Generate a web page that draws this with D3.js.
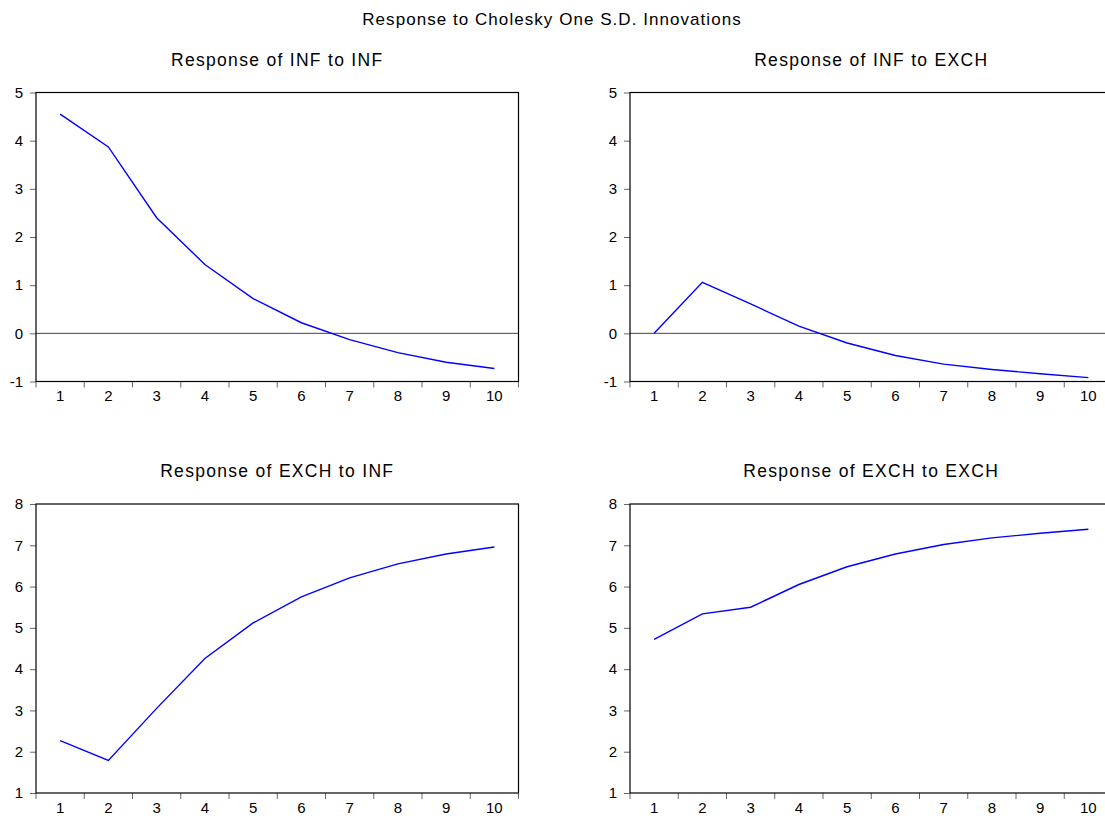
<!DOCTYPE html>
<html>
<head>
<meta charset="utf-8">
<script src="https://cdn.jsdelivr.net/npm/d3@7"></script>
<style>
  body { margin: 0; background: #fff; }
  svg { display: block; font-family: "Liberation Sans", Arial, sans-serif; }
</style>
</head>
<body>
<script>
// impulse response periods
var periods = [1, 2, 3, 4, 5, 6, 7, 8, 9, 10];

// responses
var infToInf   = [4.55, 3.87, 2.40, 1.43, 0.72, 0.22, -0.13, -0.40, -0.60, -0.73];
var infToExch  = [0.00, 1.06, 0.61, 0.15, -0.20, -0.46, -0.64, -0.75, -0.84, -0.92];
var exchToInf  = [2.27, 1.79, 3.05, 4.26, 5.12, 5.75, 6.21, 6.55, 6.79, 6.96];
var exchToExch = [4.72, 5.34, 5.50, 6.05, 6.48, 6.79, 7.02, 7.18, 7.29, 7.39];

var topTicks = [-1, 0, 1, 2, 3, 4, 5];
var bottomTicks = [1, 2, 3, 4, 5, 6, 7, 8];

var mainTitle = "Response to Cholesky One S.D. Innovations";

var panels = [
  {title: "Response of INF to INF",   values: infToInf,   ticks: topTicks,    x0: 36,  y0: 92.5, zero: true},
  {title: "Response of INF to EXCH",  values: infToExch,  ticks: topTicks,    x0: 630, y0: 92.5, zero: true},
  {title: "Response of EXCH to INF",  values: exchToInf,  ticks: bottomTicks, x0: 36,  y0: 504,  zero: false},
  {title: "Response of EXCH to EXCH", values: exchToExch, ticks: bottomTicks, x0: 630, y0: 504,  zero: false}
];

var W = 1105, H = 820;
var pw = 482.5, ph = 289;

var svg = d3.select("body").append("svg")
  .attr("width", W)
  .attr("height", H);

svg.append("rect").attr("width", W).attr("height", H).attr("fill", "#fff");

svg.append("text")
  .attr("x", 552)
  .attr("y", 25)
  .attr("text-anchor", "middle")
  .attr("font-size", 17)
  .attr("letter-spacing", 1.05)
  .text(mainTitle);

panels.forEach(function (p) {
  var x = d3.scaleBand()
    .domain(periods)
    .range([p.x0, p.x0 + pw]);

  var y = d3.scaleLinear()
    .domain(d3.extent(p.ticks))
    .range([p.y0 + ph, p.y0]);

  var g = svg.append("g");

  // panel title
  g.append("text")
    .attr("x", p.x0 + pw / 2)
    .attr("y", p.y0 - 27)
    .attr("text-anchor", "middle")
    .attr("font-size", 17.5)
    .attr("letter-spacing", 1.3)
    .text(p.title);

  // y axis ticks + labels (plain hyphen for negatives)
  var yAxis = d3.axisLeft(y)
    .tickValues(p.ticks)
    .tickFormat(function (d) { return String(d); })
    .tickSize(6)
    .tickPadding(7);
  var ya = g.append("g")
    .attr("transform", "translate(" + p.x0 + ",0)")
    .call(yAxis);
  ya.select(".domain").remove();
  ya.selectAll("line").attr("stroke", "#666");
  ya.selectAll("text").attr("font-size", 15).attr("fill", "#000")
    .attr("font-family", "Liberation Sans, Arial, sans-serif");

  // x axis labels at band centres
  var xAxis = d3.axisBottom(x).tickSize(0).tickPadding(9);
  var xa = g.append("g")
    .attr("transform", "translate(0," + (p.y0 + ph) + ")")
    .call(xAxis);
  xa.select(".domain").remove();
  xa.selectAll("text").attr("font-size", 15).attr("fill", "#000")
    .attr("font-family", "Liberation Sans, Arial, sans-serif");

  // x tick marks at band edges
  var edges = periods.map(function (d) { return x(d); }).concat([p.x0 + pw]);
  g.selectAll(".xtick")
    .data(edges)
    .enter()
    .append("line")
    .attr("class", "xtick")
    .attr("x1", function (d) { return d; })
    .attr("x2", function (d) { return d; })
    .attr("y1", p.y0 + ph)
    .attr("y2", p.y0 + ph + 6)
    .attr("stroke", "#666");

  // zero line
  if (p.zero) {
    g.append("line")
      .attr("x1", p.x0)
      .attr("x2", p.x0 + pw)
      .attr("y1", y(0))
      .attr("y2", y(0))
      .attr("stroke", "#444")
      .attr("stroke-width", 1);
  }

  // response line
  var line = d3.line()
    .x(function (d, i) { return x(periods[i]) + x.bandwidth() / 2; })
    .y(function (d) { return y(d); });

  g.append("path")
    .datum(p.values)
    .attr("d", line)
    .attr("fill", "none")
    .attr("stroke", "#0000ff")
    .attr("stroke-width", 1.4);

  // frame
  g.append("rect")
    .attr("x", p.x0)
    .attr("y", p.y0)
    .attr("width", pw)
    .attr("height", ph)
    .attr("fill", "none")
    .attr("stroke", "#000")
    .attr("stroke-width", 1.2);
});
</script>
</body>
</html>
